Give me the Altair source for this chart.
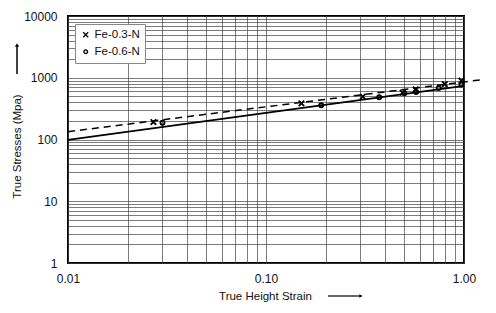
import altair as alt
import pandas as pd

# ---- data ----
strain_03 = [0.027, 0.151, 0.308, 0.49, 0.57, 0.80, 0.97]
stress_03 = [192, 386, 493, 573, 650, 792, 900]
strain_06 = [0.030, 0.19, 0.373, 0.50, 0.573, 0.745, 0.97]
stress_06 = [187, 358, 482, 560, 588, 682, 775]

# fit lines (straight on log-log axes), end points
fit_03_x = [0.01, 1.2]
fit_03_y = [134, 920]
fit_06_x = [0.01, 1.0]
fit_06_y = [99, 740]

series_names = ["Fe-0.3-N", "Fe-0.6-N"]

x_ticks = [0.01, 0.02, 0.03, 0.04, 0.05, 0.06, 0.07, 0.08, 0.09,
           0.1, 0.2, 0.3, 0.4, 0.5, 0.6, 0.7, 0.8, 0.9, 1]
y_ticks = [1, 2, 3, 4, 5, 6, 7, 8, 9,
           10, 20, 30, 40, 50, 60, 70, 80, 90,
           100, 200, 300, 400, 500, 600, 700, 800, 900,
           1000, 2000, 3000, 4000, 5000, 6000, 7000, 8000, 9000, 10000]

pts = pd.DataFrame(
    {"strain": strain_03 + strain_06,
     "stress": stress_03 + stress_06,
     "series": [series_names[0]] * len(strain_03) + [series_names[1]] * len(strain_06)}
)
fit03 = pd.DataFrame({"strain": fit_03_x, "stress": fit_03_y})
fit06 = pd.DataFrame({"strain": fit_06_x, "stress": fit_06_y})

W, H = 396, 247
FONT = "Liberation Sans"

xscale = alt.Scale(type="log", domain=[0.01, 1], nice=False)
yscale = alt.Scale(type="log", domain=[1, 10000], nice=False)

xaxis = alt.Axis(
    values=x_ticks, grid=True, ticks=False, domain=False, labelFlush=False,
    labelExpr="(datum.value == 0.01 || datum.value == 0.1 || datum.value == 1) ? format(datum.value, '.2f') : ''",
    labelOverlap=False, labelPadding=10, labelFontSize=12, labelColor="#111", labelFont=FONT,
    title="True Height Strain", titleFont=FONT, titleFontSize=11.5, titleFontWeight="normal",
    titleColor="#111", titleX=197, titleY=33, titleAlign="center", titleBaseline="middle",
    gridColor="#444", gridWidth=0.7,
)
yaxis = alt.Axis(
    values=y_ticks, grid=True, ticks=False, domain=False, labelFlush=False,
    labelExpr="(datum.value == 1 || datum.value == 10 || datum.value == 100 || datum.value == 1000 || datum.value == 10000) ? format(datum.value, 'd') : ''",
    labelOverlap=False, labelPadding=11, labelFontSize=12, labelColor="#111", labelFont=FONT,
    title="True Stresses (Mpa)", titleFont=FONT, titleFontSize=11.5, titleFontWeight="normal",
    titleColor="#111", titleX=-51, titleY=130, titleAngle=270, titleAlign="center",
    titleBaseline="middle",
    gridColor="#444", gridWidth=0.7,
)

x_path = "M-1,-1L1,1M-1,1L1,-1"
o_path = "M0.75,0A0.75,0.75 0 1,1 -0.75,0A0.75,0.75 0 1,1 0.75,0Z"

points = alt.Chart(pts).mark_point(filled=False, color="black", strokeWidth=1.8, size=30, opacity=1).encode(
    x=alt.X("strain:Q", scale=xscale, axis=xaxis),
    y=alt.Y("stress:Q", scale=yscale, axis=yaxis),
    shape=alt.Shape(
        "series:N",
        scale=alt.Scale(domain=series_names, range=[x_path, o_path]),
        legend=alt.Legend(
            title=None, orient="none", legendX=7, legendY=8,
            strokeColor="#888", fillColor="white", padding=5,
            labelFont=FONT, labelFontSize=11.5, labelColor="#111",
            symbolSize=24, symbolStrokeColor="black", symbolStrokeWidth=1.3,
            symbolFillColor="transparent", rowPadding=4, labelOffset=3,
            cornerRadius=0,
        ),
    ),
)

line03 = alt.Chart(fit03).mark_line(color="black", strokeWidth=1.5, strokeDash=[7, 5], clip=False).encode(
    x=alt.X("strain:Q", scale=xscale), y=alt.Y("stress:Q", scale=yscale)
)
line06 = alt.Chart(fit06).mark_line(color="black", strokeWidth=1.8).encode(
    x=alt.X("strain:Q", scale=xscale), y=alt.Y("stress:Q", scale=yscale)
)

# axis-title arrows (annotation)
arrow_y_shaft = alt.Chart(pd.DataFrame({"a": [0]})).mark_rule(color="black", strokeWidth=1.5, clip=False).encode(
    x=alt.value(-51), y=alt.value(30), y2=alt.value(58)
)
arrow_y_head = alt.Chart(pd.DataFrame({"a": [0]})).mark_point(
    shape="triangle-up", filled=True, color="black", size=18, opacity=1, clip=False
).encode(x=alt.value(-51), y=alt.value(29))
arrow_x_shaft = alt.Chart(pd.DataFrame({"a": [0]})).mark_rule(color="black", strokeWidth=1.2, clip=False).encode(
    x=alt.value(260), x2=alt.value(292), y=alt.value(280)
)
arrow_x_head = alt.Chart(pd.DataFrame({"a": [0]})).mark_point(
    shape="triangle-right", filled=True, color="black", size=14, opacity=1, clip=False
).encode(x=alt.value(293), y=alt.value(280))

chart = alt.layer(
    line06, line03, points, arrow_y_shaft, arrow_y_head, arrow_x_shaft, arrow_x_head
).properties(
    width=W, height=H,
    autosize=alt.AutoSizeParams(type="none"),
    padding={"left": 60, "top": 8, "right": 24, "bottom": 40},
    background="white",
).configure_view(
    stroke="black", strokeWidth=2
)

chart.save("out.html", embed_options={"renderer": "svg", "actions": False})
